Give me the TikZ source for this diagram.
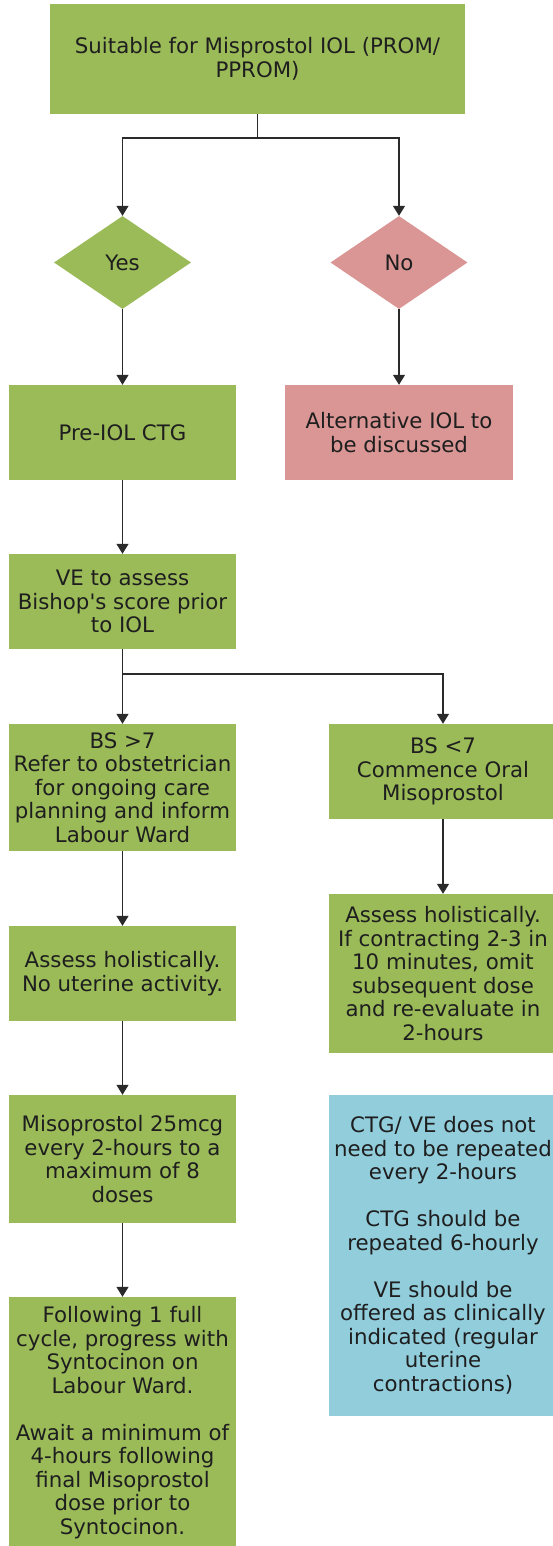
\documentclass[tikz,border=0pt]{standalone}
\usepackage{fontspec}
\setmainfont{DejaVu Sans}
\usetikzlibrary{shapes.geometric,arrows.meta}
\definecolor{gbox}{HTML}{9BBB59}
\definecolor{rbox}{HTML}{D99694}
\definecolor{bbox}{HTML}{92CDDC}
\definecolor{txt}{HTML}{1E1E1E}
\definecolor{lin}{HTML}{2A2A2A}
\tikzset{
  base/.style={inner sep=0pt, align=center, text=txt, font=\fontsize{21.3}{23.5}\selectfont},
  gnode/.style={base, rectangle, fill=gbox},
  rnode/.style={base, rectangle, fill=rbox},
  bnode/.style={base, rectangle, fill=bbox},
  gdia/.style={base, diamond, aspect=1.47, fill=gbox, minimum width=137pt, minimum height=93pt},
  rdia/.style={base, diamond, aspect=1.47, fill=rbox, minimum width=137pt, minimum height=93pt},
  arr/.style={draw=lin, line width=1.3pt, -{Triangle[length=10pt,width=12pt]}},
  lnk/.style={draw=lin, line width=1.3pt}
}
\begin{document}
\begin{tikzpicture}[x=1pt,y=-1pt]
\useasboundingbox (0,0) rectangle (553,1546);
\node[gnode, minimum width=415pt, minimum height=110pt] (top) at (257.5,59) {Suitable for Misprostol IOL (PROM/\\PPROM)};
\node[gdia] (yes) at (122.5,262.5) {Yes};
\node[rdia] (no) at (399,262.5) {No};
\node[gnode, minimum width=227pt, minimum height=95pt] (ctg) at (122.5,432.5) {Pre-IOL CTG};
\node[rnode, minimum width=228pt, minimum height=95pt] (alt) at (399,432.5) {Alternative IOL to\\be discussed};
\node[gnode, minimum width=227pt, minimum height=95pt] (ve) at (122.5,601.5) {VE to assess\\Bishop\textquotesingle s score prior\\to IOL};
\node[gnode, minimum width=227pt, minimum height=127pt] (bsh) at (122.5,787.5) {BS >7\\Refer to obstetrician\\for ongoing care\\planning and inform\\Labour Ward};
\node[gnode, minimum width=228pt, minimum height=95pt] (bsl) at (443,771.5) {BS <7\\Commence Oral\\Misoprostol};
\node[gnode, minimum width=227pt, minimum height=95pt] (asl) at (122.5,973.5) {Assess holistically.\\No uterine activity.};
\node[gnode, minimum width=228pt, minimum height=159pt] (asr) at (443,973.5) {Assess holistically.\\If contracting 2-3 in\\10 minutes, omit\\subsequent dose\\and re-evaluate in\\2-hours};
\node[gnode, minimum width=227pt, minimum height=128pt] (miso) at (122.5,1159) {Misoprostol 25mcg\\every 2-hours to a\\maximum of 8\\doses};
\node[bnode, minimum width=228pt, minimum height=321pt] (blue) at (443,1255.5) {CTG/ VE does not\\need to be repeated\\every 2-hours\\[23.5pt]CTG should be\\repeated 6-hourly\\[23.5pt]VE should be\\offered as clinically\\indicated (regular\\uterine\\contractions)};
\node[gnode, minimum width=227pt, minimum height=251pt] (fol) at (122.5,1422.5) {Following 1 full\\cycle, progress with\\Syntocinon on\\Labour Ward.\\[23.5pt]Await a minimum of\\4-hours following\\final Misoprostol\\dose prior to\\Syntocinon.};
\coordinate (j1) at (257.5,138);
\coordinate (j2) at (122.5,674);
\draw[lnk] (top.south) -- (j1);
\draw[arr] (j1) -| (yes.north);
\draw[arr] (j1) -| (no.north);
\draw[arr] (yes.south) -- (ctg.north);
\draw[arr] (no.south) -- (alt.north);
\draw[arr] (ctg.south) -- (ve.north);
\draw[arr] (ve.south) -- (bsh.north);
\draw[arr] (j2) -| (bsl.north);
\draw[arr] (bsh.south) -- (asl.north);
\draw[arr] (bsl.south) -- (asr.north);
\draw[arr] (asl.south) -- (miso.north);
\draw[arr] (miso.south) -- (fol.north);
\end{tikzpicture}
\end{document}
